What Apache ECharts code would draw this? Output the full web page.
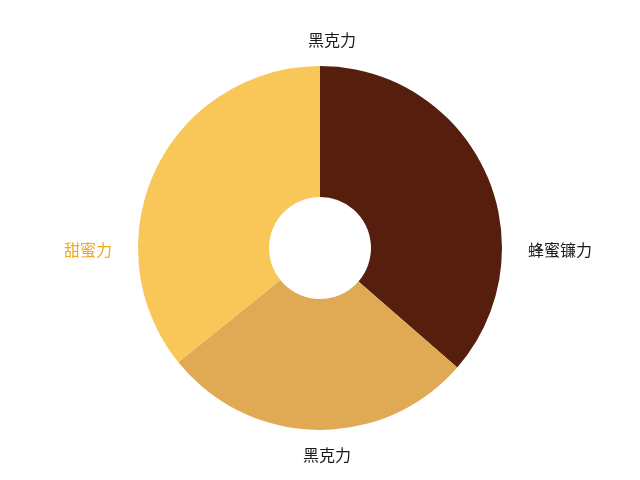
<!DOCTYPE html>
<html>
<head>
<meta charset="utf-8">
<script src="https://cdn.jsdelivr.net/npm/echarts@6/dist/echarts.min.js"></script>
<style>
html,body{margin:0;padding:0;background:#fff;}
#chart{width:640px;height:480px;}
</style>
</head>
<body>
<div id="chart"></div>
<script>
const titleText = '黑克力';
const names = ['蜂蜜镰力', '黑克力', '甜蜜力'];
const values = [36.4, 27.8, 35.8];
const colors = ['#561e0c', '#e0aa55', '#f9c658'];
const labelColors = ['#1a1a1a', '#1a1a1a', '#f0a820'];

const chart = echarts.init(document.getElementById('chart'));
const cx = 320, cy = 248;
const labelPos = [
  { x: 560, y: 250 },
  { x: 327, y: 455 },
  { x: 88, y: 250 }
];
chart.setOption({
  backgroundColor: '#ffffff',
  title: {
    text: titleText,
    left: 327,
    top: 27,
    textAlign: 'center',
    textStyle: { fontSize: 16, fontWeight: 'normal', color: '#1a1a1a', fontFamily: 'Noto Sans CJK SC' }
  },
  series: [{
    type: 'pie',
    center: [cx, cy],
    radius: [51, 182],
    startAngle: 90,
    clockwise: true,
    avoidLabelOverlap: false,
    silent: true,
    label: {
      show: true,
      position: 'outside',
      fontSize: 16,
      fontFamily: 'Noto Sans CJK SC'
    },
    labelLine: { show: false },
    labelLayout: function (params) {
      const p = labelPos[params.dataIndex];
      return { x: p.x, y: p.y, align: 'center', verticalAlign: 'middle' };
    },
    data: names.map((n, i) => ({
      name: n,
      value: values[i],
      itemStyle: { color: colors[i] },
      label: { color: labelColors[i] }
    }))
  }]
});
</script>
</body>
</html>
